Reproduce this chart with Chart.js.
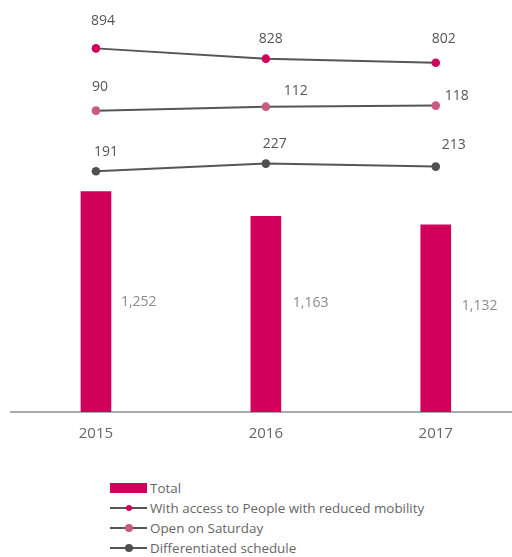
<!DOCTYPE html>
<html>
<head>
<meta charset="utf-8">
<script src="https://cdn.jsdelivr.net/npm/chart.js@4/dist/chart.umd.min.js"></script>
<style>
  html, body { margin: 0; padding: 0; background: #fff; }
  #wrap { position: relative; width: 512px; height: 557px; overflow: hidden; }
  #c { position: absolute; left: 0; top: 0; }
  #legend { position: absolute; left: 110px; top: 478px; font: 13.4px "Open Sans", sans-serif; color: #666; }
  .row { height: 20px; display: flex; align-items: center; white-space: nowrap; }
  .sym { position: relative; width: 37px; height: 20px; margin-right: 3px; flex: none; }
  .sym .bar { position: absolute; left: 0; top: 5px; width: 37px; height: 10px; }
  .sym .ln { position: absolute; left: 0; top: 9px; width: 37px; height: 2px; }
  .sym .dot { position: absolute; border-radius: 50%; }
</style>
</head>
<body>
<div id="wrap">
  <canvas id="c" width="525" height="456"></canvas>
  <div id="legend"></div>
</div>
<script>
// Years and series
const years = ['2015', '2016', '2017'];
const total = [1252, 1163, 1132];
const reducedMobility = [894, 828, 802];
const openSaturday = [90, 112, 118];
const differentiated = [191, 227, 213];

const FONT = '"Open Sans", sans-serif';
const CRIMSON = '#d1005a';
const PINK = '#c95a80';
const DARK = '#505050';
const LINE = '#555555';

// Writes each value next to its mark
const valueLabels = {
  id: 'valueLabels',
  afterDatasetsDraw(chart, args, opts) {
    const ctx = chart.ctx;
    const bottom = chart.chartArea.bottom;
    chart.data.datasets.forEach((ds, i) => {
      const meta = chart.getDatasetMeta(i);
      const cfg = opts.sets[i];
      ctx.save();
      ctx.font = '14px ' + FONT;
      ctx.fillStyle = cfg.color;
      ctx.textAlign = cfg.align;
      ctx.textBaseline = 'middle';
      meta.data.forEach((el, j) => {
        const n = cfg.nudge[j];
        let x, y;
        if (meta.type === 'bar') {
          x = el.x + el.width / 2 + n[0];
          y = (el.y + bottom) / 2 + n[1];
        } else {
          x = el.x + n[0];
          y = el.y + n[1];
        }
        ctx.fillText(ds.data[j].toLocaleString('en-US'), x, y);
      });
      ctx.restore();
    });
  }
};

const chart = new Chart(document.getElementById('c'), {
  data: {
    labels: years,
    datasets: [
      {
        type: 'bar', label: 'Total', data: total, yAxisID: 'yBar',
        backgroundColor: CRIMSON, barThickness: 30, order: 4
      },
      {
        type: 'line', label: 'With access to People with reduced mobility', data: reducedMobility, yAxisID: 'y1',
        borderColor: LINE, borderWidth: 2, pointBackgroundColor: CRIMSON, pointBorderWidth: 0,
        pointRadius: 4.3, legendDot: 3, order: 1
      },
      {
        type: 'line', label: 'Open on Saturday', data: openSaturday, yAxisID: 'y2',
        borderColor: LINE, borderWidth: 2, pointBackgroundColor: PINK, pointBorderWidth: 0,
        pointRadius: 4.3, legendDot: 4, order: 2
      },
      {
        type: 'line', label: 'Differentiated schedule', data: differentiated, yAxisID: 'y3',
        borderColor: LINE, borderWidth: 2, pointBackgroundColor: DARK, pointBorderWidth: 0,
        pointRadius: 4.3, legendDot: 4, order: 3
      }
    ]
  },
  options: {
    responsive: false,
    animation: false,
    devicePixelRatio: 1,
    layout: { padding: { left: 11, right: 0, top: 10, bottom: 0 } },
    plugins: {
      legend: { display: false },
      tooltip: { enabled: false },
      valueLabels: {
        sets: [
          { color: '#8a8a8a', align: 'left', nudge: [[10, 0], [12, -11], [11, -12]] },
          { color: '#555', align: 'center', nudge: [[7, -27], [5, -20], [8, -24]] },
          { color: '#555', align: 'center', nudge: [[4, -24], [30, -16], [21, -10]] },
          { color: '#555', align: 'center', nudge: [[10, -19], [9, -20], [18, -22]] }
        ]
      }
    },
    scales: {
      x: {
        type: 'category',
        offset: true,
        grid: { display: false, drawTicks: false },
        border: { display: true, color: '#aaaaaa', width: 2 },
        ticks: { color: '#666', font: { family: FONT, size: 15 }, padding: 13 }
      },
      yBar: { type: 'linear', display: false, min: 459, max: 1905 },
      y1: { type: 'linear', display: false, min: -1437, max: 1140 },
      y2: { type: 'linear', display: false, min: -1584, max: 649 },
      y3: { type: 'linear', display: false, min: -934, max: 945 }
    }
  },
  plugins: [valueLabels]
});

// Legend built from the chart's datasets
const legend = document.getElementById('legend');
chart.data.datasets.forEach(ds => {
  const row = document.createElement('div');
  row.className = 'row';
  const sym = document.createElement('div');
  sym.className = 'sym';
  if (ds.type === 'bar') {
    const b = document.createElement('div');
    b.className = 'bar';
    b.style.background = ds.backgroundColor;
    sym.appendChild(b);
  } else {
    const l = document.createElement('div');
    l.className = 'ln';
    l.style.background = ds.borderColor;
    const d = document.createElement('div');
    d.className = 'dot';
    const r = ds.legendDot;
    d.style.width = d.style.height = (2 * r) + 'px';
    d.style.left = (19 - r) + 'px';
    d.style.top = (10 - r) + 'px';
    d.style.background = ds.pointBackgroundColor;
    sym.appendChild(l);
    sym.appendChild(d);
  }
  const t = document.createElement('span');
  t.textContent = ds.label;
  row.appendChild(sym);
  row.appendChild(t);
  legend.appendChild(row);
});
</script>
</body>
</html>
